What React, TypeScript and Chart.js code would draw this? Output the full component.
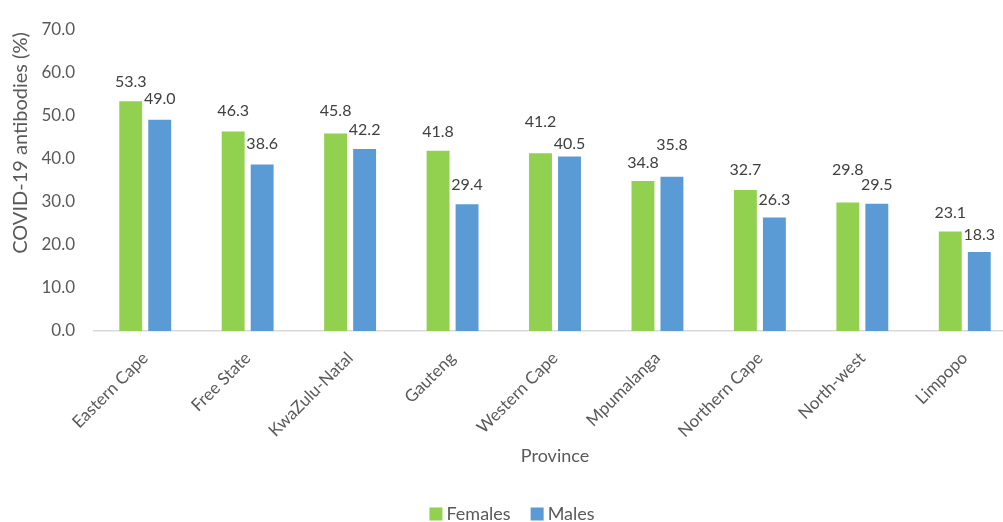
import React, { useEffect, useRef } from "react";
import { Chart, registerables } from "chart.js";

Chart.register(...registerables);

const provinces = [
  "Eastern Cape",
  "Free State",
  "KwaZulu-Natal",
  "Gauteng",
  "Western Cape",
  "Mpumalanga",
  "Northern Cape",
  "North-west",
  "Limpopo",
];
const females = [53.3, 46.3, 45.8, 41.8, 41.2, 34.8, 32.7, 29.8, 23.1];
const males = [49.0, 38.6, 42.2, 29.4, 40.5, 35.8, 26.3, 29.5, 18.3];
// Where each value label sits (in axis units), as placed in the original chart
const femaleLabelAt = [57.7, 51.1, 51.1, 46.1, 48.4, 39.1, 37.3, 37.3, 27.3];
const maleLabelAt = [53.8, 43.3, 46.7, 33.8, 43.4, 43.1, 30.4, 33.8, 22.3];
const yTicks = [0, 10, 20, 30, 40, 50, 60, 70];
const seriesNames = ["Females", "Males"];
const seriesColors = ["#92D050", "#5B9BD5"];
const yTitle = "COVID-19 antibodies (%)";

const FONT = "Lato, 'Open Sans', sans-serif";
const GRAY = "#595959";

const labelPlugin = {
  id: "valueLabels",
  afterDatasetsDraw(chart: any) {
    const ctx = chart.ctx;
    const yScale = chart.scales.y;
    const labelAts = [femaleLabelAt, maleLabelAt];
    ctx.save();
    ctx.font = `16px ${FONT}`;
    ctx.fillStyle = "#404040";
    ctx.textAlign = "center";
    ctx.textBaseline = "middle";
    chart.data.datasets.forEach((ds: any, di: number) => {
      const meta = chart.getDatasetMeta(di);
      meta.data.forEach((bar: any, i: number) => {
        const y = yScale.getPixelForValue(labelAts[di][i]);
        ctx.fillText(Number(ds.data[i]).toFixed(1), bar.x, y);
      });
    });
    ctx.restore();
  },
};

const legendPlugin = {
  id: "customLegend",
  afterDraw(chart: any) {
    const ctx = chart.ctx;
    ctx.save();
    ctx.font = `18px ${FONT}`;
    ctx.textBaseline = "middle";
    ctx.textAlign = "left";
    const box = 13;
    const gapText = 4;
    const gapItem = 20;
    const widths = seriesNames.map((n) => box + gapText + ctx.measureText(n).width);
    const total = widths.reduce((a, b) => a + b, 0) + gapItem * (seriesNames.length - 1);
    let x = 512 - total / 2;
    const cy = 514;
    seriesNames.forEach((n, i) => {
      ctx.fillStyle = seriesColors[i];
      ctx.fillRect(x, cy - box / 2, box, box);
      ctx.fillStyle = GRAY;
      ctx.fillText(n, x + box + gapText, cy);
      x += widths[i] + gapItem;
    });
    // y-axis title
    ctx.translate(21, 143);
    ctx.rotate(-Math.PI / 2);
    ctx.font = `20px ${FONT}`;
    ctx.textAlign = "center";
    ctx.fillText(yTitle, 0, 0);
    ctx.restore();
  },
};

export default function App() {
  const ref = useRef<HTMLCanvasElement | null>(null);
  useEffect(() => {
    document.body.style.margin = "0";
    const chart = new Chart(ref.current as HTMLCanvasElement, {
      type: "bar",
      data: {
        labels: provinces,
        datasets: seriesNames.map((name, i) => ({
          label: name,
          data: i === 0 ? females : males,
          backgroundColor: seriesColors[i],
          categoryPercentage: 0.566,
          barPercentage: 0.79,
        })),
      },
      options: {
        animation: false,
        responsive: false,
        maintainAspectRatio: false,
        layout: { padding: { top: 27, right: 8, left: 0, bottom: 55 } },
        plugins: {
          legend: { display: false },
          tooltip: { enabled: false },
        },
        scales: {
          x: {
            grid: { display: false, drawTicks: false },
            border: { display: true, color: "#d9d9d9", width: 1.5 },
            ticks: {
              font: { family: FONT, size: 17 },
              color: GRAY,
              maxRotation: 45,
              minRotation: 45,
              padding: 17,
            },
            title: {
              display: true,
              text: "Province",
              font: { family: FONT, size: 18 },
              color: GRAY,
              padding: { top: 0, bottom: 0 },
            },
            afterFit: (scale: any) => {
              scale.height = 136;
            },
          },
          y: {
            min: 0,
            max: 70,
            afterBuildTicks: (scale: any) => {
              scale.ticks = yTicks.map((v) => ({ value: v }));
            },
            grid: { display: false, drawTicks: false },
            border: { display: false },
            ticks: {
              font: { family: FONT, size: 17 },
              color: GRAY,
              padding: 19,
              callback: (v: any) => Number(v).toFixed(1),
            },
            afterFit: (scale: any) => {
              scale.width = 94;
            },
          },
        },
      },
      plugins: [labelPlugin, legendPlugin],
    });
    return () => chart.destroy();
  }, []);
  return (
    <div style={{ width: 1003, height: 522, overflow: "hidden", background: "#fff" }}>
      <canvas ref={ref} width={1024} height={522} style={{ display: "block" }} />
    </div>
  );
}
